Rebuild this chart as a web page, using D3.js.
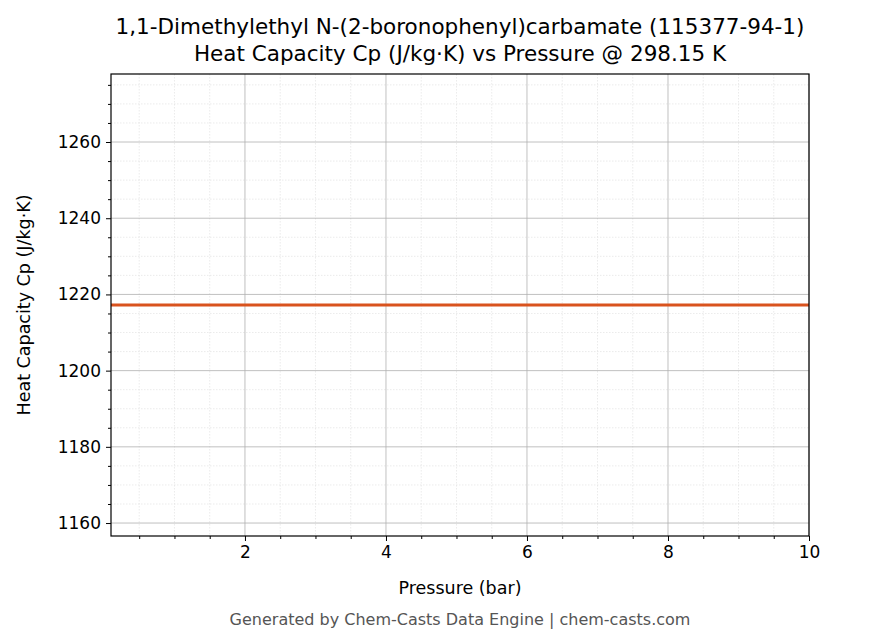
<!DOCTYPE html>
<html><head><meta charset="utf-8">
<script src="https://cdn.jsdelivr.net/npm/d3@7"></script>
<style>body{margin:0;background:#fff}text{font-family:"DejaVu Sans",sans-serif}</style>
</head><body><svg id="c" width="875" height="644"></svg>
<script>
const pressures = [0.1, 1, 2, 3, 4, 5, 6, 7, 8, 9, 10];
const cpValues = [1217.2, 1217.2, 1217.2, 1217.2, 1217.2, 1217.2, 1217.2, 1217.2, 1217.2, 1217.2, 1217.2];
const xTicks = [2, 4, 6, 8, 10];
const yTicks = [1160, 1180, 1200, 1220, 1240, 1260];
const titleLines = ["1,1-Dimethylethyl N-(2-boronophenyl)carbamate (115377-94-1)", "Heat Capacity Cp (J/kg·K) vs Pressure @ 298.15 K"];

const svg = d3.select("#c");
const L=111,R=809,T=74,B=536;
const x = d3.scaleLinear().domain([0.1,10]).range([L,R]);
const y = d3.scaleLinear().domain([1156.6,1277.85]).range([B,T]);
const xMinor = d3.range(0.5,10.01,0.5).filter(v=>!xTicks.includes(v));
const yMinor = d3.range(1160,1276,5).filter(v=>!yTicks.includes(v));
const g = svg.append("g");
g.selectAll(".xm").data(xMinor).join("line").attr("x1",d=>x(d)).attr("x2",d=>x(d)).attr("y1",T).attr("y2",B).attr("stroke","#ddd").attr("stroke-width",0.6).attr("stroke-dasharray","1.5,1.5");
g.selectAll(".ym").data(yMinor).join("line").attr("y1",d=>y(d)).attr("y2",d=>y(d)).attr("x1",L).attr("x2",R).attr("stroke","#ddd").attr("stroke-width",0.6).attr("stroke-dasharray","1.5,1.5");
g.selectAll(".xg").data(xTicks).join("line").attr("x1",d=>x(d)).attr("x2",d=>x(d)).attr("y1",T).attr("y2",B).attr("stroke","#b0b0b0").attr("stroke-width",0.8);
g.selectAll(".yg").data(yTicks).join("line").attr("y1",d=>y(d)).attr("y2",d=>y(d)).attr("x1",L).attr("x2",R).attr("stroke","#b0b0b0").attr("stroke-width",0.8);

svg.append("path").datum(pressures.map((p,i)=>[p,cpValues[i]]))
 .attr("d",d3.line().x(d=>x(d[0])).y(d=>y(d[1]))).attr("fill","none").attr("stroke","#d9531e").attr("stroke-width",3);

svg.append("g").attr("transform",`translate(0,${B})`).call(d3.axisBottom(x).tickValues(xTicks).tickSize(5).tickPadding(5).tickFormat(d3.format("d")));
svg.append("g").attr("transform",`translate(0,${B})`).call(d3.axisBottom(x).tickValues(xMinor).tickSize(3).tickFormat(""));
svg.append("g").attr("transform",`translate(${L},0)`).call(d3.axisLeft(y).tickValues(yTicks).tickSize(5).tickPadding(5).tickFormat(d3.format("d")));
svg.append("g").attr("transform",`translate(${L},0)`).call(d3.axisLeft(y).tickValues(yMinor).tickSize(3).tickFormat(""));
svg.selectAll(".domain").remove();
svg.selectAll(".tick text").attr("font-size",17).attr("fill","#000").style("font-family","DejaVu Sans");
svg.append("rect").attr("x",L).attr("y",T).attr("width",R-L).attr("height",B-T).attr("fill","none").attr("stroke","#000").attr("stroke-width",1.2);

svg.append("text").attr("x",(L+R)/2).attr("y",594).attr("text-anchor","middle").attr("font-size",17.5).text("Pressure (bar)");
svg.append("text").attr("transform",`translate(30,${(T+B)/2}) rotate(-90)`).attr("text-anchor","middle").attr("font-size",17.5).text("Heat Capacity Cp (J/kg·K)");
titleLines.forEach((t,i)=>svg.append("text").attr("x",460).attr("y",34+i*27).attr("text-anchor","middle").attr("font-size",21.5).text(t));
svg.append("text").attr("x",460).attr("y",625).attr("text-anchor","middle").attr("font-size",16).attr("fill","#555").text("Generated by Chem-Casts Data Engine | chem-casts.com");
</script></body></html>
